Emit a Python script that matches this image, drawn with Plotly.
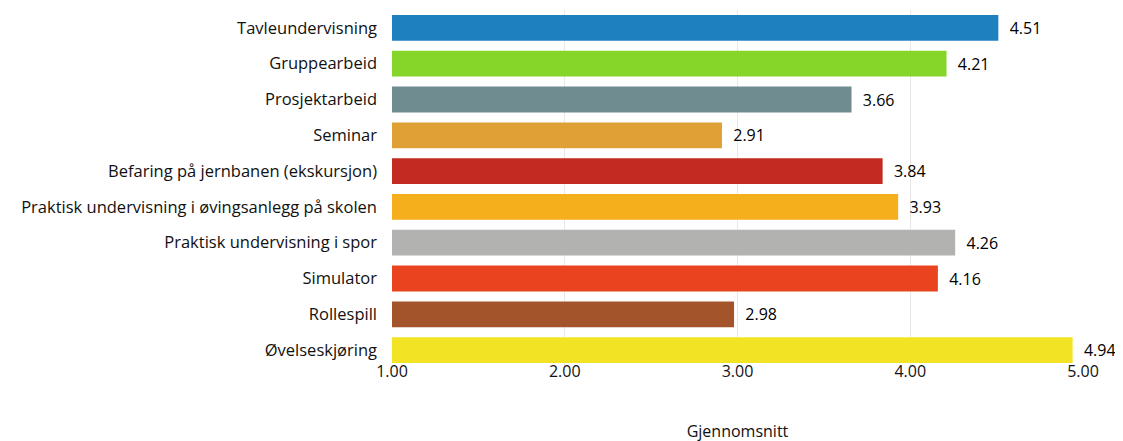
import plotly.graph_objects as go

categories = [
    "Tavleundervisning",
    "Gruppearbeid",
    "Prosjektarbeid",
    "Seminar",
    "Befaring på jernbanen (ekskursjon)",
    "Praktisk undervisning i øvingsanlegg på skolen",
    "Praktisk undervisning i spor",
    "Simulator",
    "Rollespill",
    "Øvelseskjøring",
]
values = [4.51, 4.21, 3.66, 2.91, 3.84, 3.93, 4.26, 4.16, 2.98, 4.94]
colors = [
    "#1f80c0", "#86d62a", "#6f8c90", "#dfa035", "#c22a22",
    "#f5ae1c", "#b2b2b0", "#e9441f", "#a4542a", "#f2e424",
]
tick_vals = [1, 2, 3, 4, 5]
tick_text = ["1.00", "2.00", "3.00", "4.00", "5.00"]

FONT = "Open Sans, sans-serif"

fig = go.Figure(
    go.Bar(
        y=categories,
        x=values,
        orientation="h",
        marker=dict(color=colors, line=dict(width=0)),
        text=[f"  {v:.2f}" for v in values],
        textposition="outside",
        textfont=dict(family=FONT, size=16, color="#000000"),
        cliponaxis=False,
    )
)

fig.update_yaxes(
    categoryorder="array",
    categoryarray=categories[::-1],
    tickfont=dict(family=FONT, size=16.5, color="#111111"),
    ticks="",
    ticklabelstandoff=14,
    showgrid=False,
)
fig.update_xaxes(
    range=[1, 5],
    tickvals=tick_vals,
    ticktext=tick_text,
    tickfont=dict(family=FONT, size=16, color="#111111"),
    ticklabelstandoff=-8,
    showgrid=True,
    gridcolor="#e8e8e8",
    zeroline=False,
    title=dict(text="Gjennomsnitt", font=dict(family=FONT, size=16, color="#111111"), standoff=44),
)

fig.update_layout(
    width=1123,
    height=441,
    margin=dict(l=384, r=48, t=2, b=81),
    bargap=0.28,
    plot_bgcolor="white",
    paper_bgcolor="white",
    showlegend=False,
)

fig.write_html("out.html")
